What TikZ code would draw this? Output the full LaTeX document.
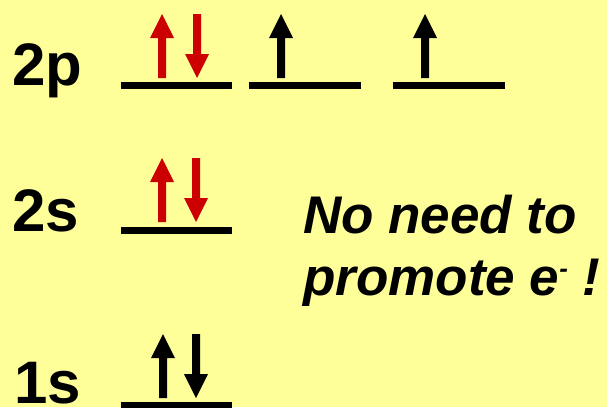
\documentclass[tikz,border=0pt]{standalone}
\usepackage{fontspec}
\setmainfont{Liberation Sans}
\definecolor{paper}{RGB}{255,255,153}
\definecolor{spinred}{RGB}{204,0,0}
\begin{document}
\begin{tikzpicture}[x=1pt,y=-1pt,
  label/.style={anchor=base west,inner sep=0pt,font=\bfseries\fontsize{60}{60}\selectfont},
  note/.style={anchor=base west,inner sep=0pt,font=\bfseries\itshape\fontsize{53}{62}\selectfont},
  level/.style={line width=7pt},
  spinup/.pic={\fill (-4,0) -- (-4,-40) -- (-12,-40) -- (0,-64) -- (12,-40) -- (4,-40) -- (4,0) -- cycle;},
  spindown/.pic={\fill (-4,-64) -- (-4,-24) -- (-12,-24) -- (0,0) -- (12,-24) -- (4,-24) -- (4,-64) -- cycle;}]
% background
\fill[paper] (0,0) rectangle (607,407);
\useasboundingbox (0,0) rectangle (607,407);

% orbital labels
\node[label] (l2p) at (12,85) {2p};
\node[label] (l2s) at (12,231) {2s};
\node[label] (l1s) at (14,403) {1s};

% energy levels
\draw[level] (121,85.5) -- (232,85.5);
\draw[level] (249,85.5) -- (361,85.5);
\draw[level] (393,85.5) -- (505,85.5);
\draw[level] (121,230) -- (232,230);
\draw[level] (121,405.5) -- (232,405.5);

% electrons in 2p
\pic[spinred] at (162,78) {spinup};
\pic[spinred] at (197,78) {spindown};
\pic[black] at (281,78) {spinup};
\pic[black] at (425,78) {spinup};

% electrons in 2s
\pic[spinred] at (162,222) {spinup};
\pic[spinred] at (196,222) {spindown};

% electrons in 1s
\pic[black] at (163,398) {spinup};
\pic[black] at (196,398) {spindown};

% remark
\node[note] (t1) at (303,233) {No need to};
\node[note] (t2) at (303,295) {promote e\raisebox{18pt}{\fontsize{26}{26}\selectfont -} !};
\end{tikzpicture}
\end{document}
